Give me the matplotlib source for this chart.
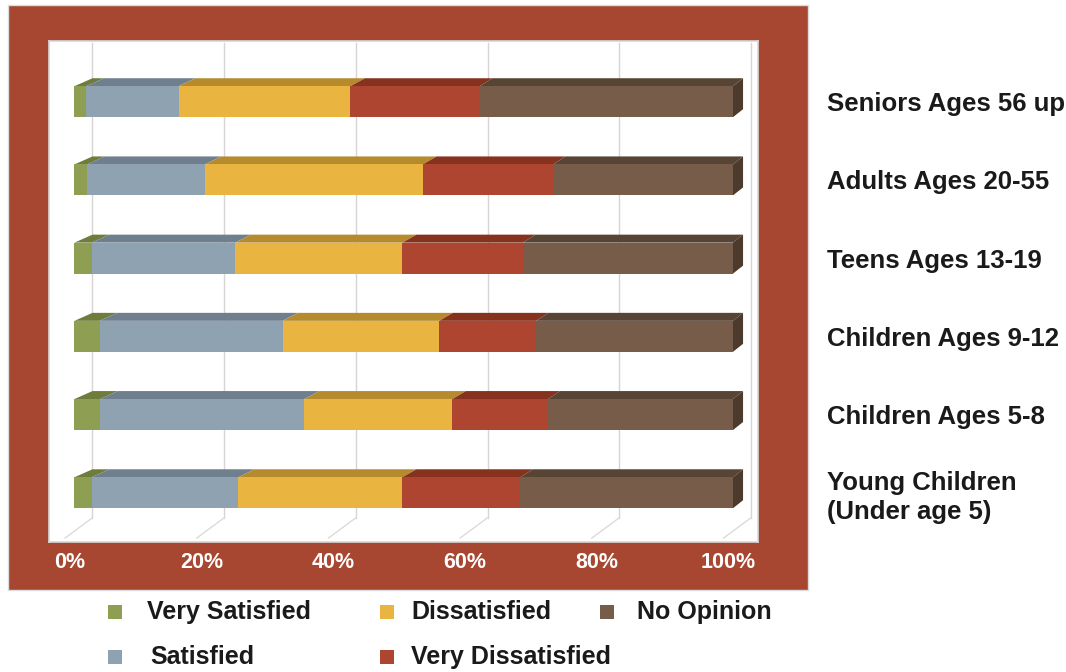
import matplotlib
matplotlib.use("Agg")
import matplotlib.pyplot as plt
from matplotlib.patches import Polygon, Rectangle

# ---- data (percent, stacked) ----
groups = ["Young Children\n(Under age 5)", "Children Ages 5-8", "Children Ages 9-12",
          "Teens Ages 13-19", "Adults Ages 20-55", "Seniors Ages 56 up"]
very_satisfied = [2.6, 3.9, 3.8, 2.6, 1.9, 1.8]
satisfied = [22.3, 31.0, 27.8, 21.8, 17.9, 14.0]
dissatisfied = [24.9, 22.5, 23.8, 25.4, 33.1, 26.1]
very_dissatisfied = [17.9, 14.5, 14.7, 18.3, 19.8, 19.6]
no_opinion = [32.3, 28.1, 29.9, 31.9, 27.3, 38.5]
series_names = ["Very Satisfied", "Satisfied", "Dissatisfied", "Very Dissatisfied", "No Opinion"]
ticks = [0, 20, 40, 60, 80, 100]
tick_labels = ["0%", "20%", "40%", "60%", "80%", "100%"]

series = [very_satisfied, satisfied, dissatisfied, very_dissatisfied, no_opinion]
front_cols = ["#8e9e52", "#8fa2b2", "#e9b440", "#ad4530", "#775d49"]
top_cols = ["#6f7d3c", "#6f7f8e", "#b68b2e", "#86321f", "#574434"]
side_col = "#4c3a2c"
frame_red = "#a84731"

plt.rcParams['font.family'] = ['Liberation Sans', 'DejaVu Sans']

W, H = 1066, 672
fig = plt.figure(figsize=(W / 100, H / 100), dpi=100)

# red frame behind the plot panel
fig.add_artist(Rectangle((8 / W, 1 - 590 / H), 800 / W, 585 / H, transform=fig.transFigure,
                         facecolor=frame_red, edgecolor="#dcdcdc", lw=1, zorder=0))

ax = fig.add_axes([49 / W, 1 - 542 / H, 709 / W, 501 / H], zorder=1)
ax.set_facecolor("white")
ax.set_xlim(-3.87, 103.8)
ax.set_ylim(-0.63, 5.776)
for s in ax.spines.values():
    s.set_color("#d8d8d8")
    s.set_linewidth(1.2)

dy = 0.102      # depth of the fake 3d (vertical)
hh = 0.198      # half bar height
floor_y, floor_front = -0.32, -0.58
floor_dx = -4.17


def depth_dx(x):
    # a little perspective: deeper on the left, shallower on the right
    return 2.73 - 1.2 * x / 100.0


# back wall gridlines + floor lines
for t in ticks:
    ax.plot([t + 2.73, t + 2.73], [floor_y, 5.75], color="#d9d4d4", lw=1, zorder=1)
    ax.plot([t + 2.73, t + 2.73 + floor_dx], [floor_y, floor_front], color="#dedada", lw=1, zorder=1)

for i in range(len(groups)):
    left = 0.0
    y0, y1 = i - hh, i + hh
    for j, vals in enumerate(series):
        v = vals[i]
        r = left + v
        ax.add_patch(Rectangle((left, y0), v, 2 * hh, facecolor=front_cols[j], edgecolor="none", zorder=3))
        ax.add_patch(Polygon([(left, y1), (r, y1), (r + depth_dx(r), y1 + dy), (left + depth_dx(left), y1 + dy)],
                             closed=True, facecolor=top_cols[j], edgecolor="none", zorder=2))
        left = r
    d = depth_dx(left)
    ax.add_patch(Polygon([(left, y0), (left, y1), (left + d, y1 + dy), (left + d, y0 + dy)],
                         closed=True, facecolor=side_col, edgecolor="none", zorder=3))

ax.set_xticks([t - 0.7 for t in ticks])
ax.set_xticklabels(tick_labels, color="white", fontsize=15.5, fontweight="bold")
ax.tick_params(axis="x", length=0, pad=7)

ax.yaxis.tick_right()
ax.set_yticks(range(len(groups)))
ax.set_yticklabels(groups, fontsize=18.5, fontweight="bold", color="#1a1a1a", linespacing=1.25)
ax.tick_params(axis="y", length=0, pad=50)

# legend, laid out like the original
leg_pos = [(108, 612, 147), (108, 657, 150), (380, 612, 411), (380, 657, 411), (600, 612, 637)]
for (mx, my, tx), name, c in zip(leg_pos, series_names, front_cols):
    fig.add_artist(Rectangle((mx / W, 1 - (my + 7) / H), 14 / W, 14 / H, transform=fig.transFigure,
                             facecolor=c, edgecolor="none"))
    fig.text(tx / W, 1 - my / H, name, fontsize=18, fontweight="bold", color="#1a1a1a",
             va="center", ha="left")

fig.savefig("out.png", dpi=100)
